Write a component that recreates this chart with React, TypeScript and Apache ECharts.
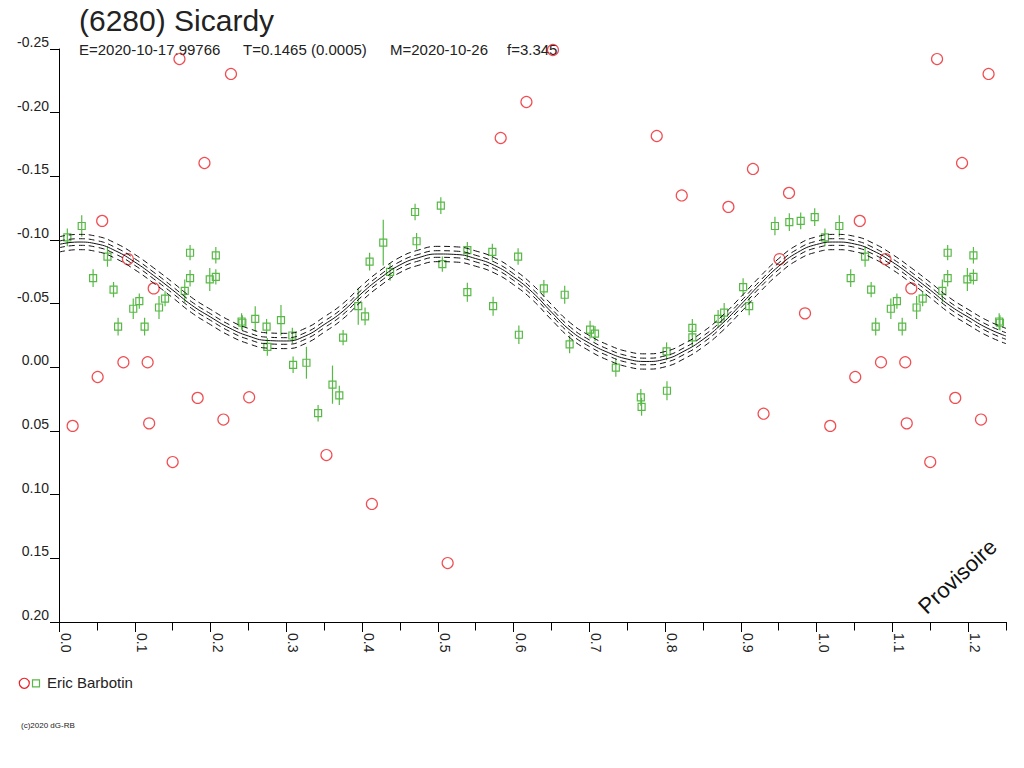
import React, { useEffect, useRef } from "react";
import * as echarts from "echarts";

// ---------- data ----------
const PHASE_MAX = 1.25;

// green squares (with error bars): phase, magnitude, error
const greenPhase = [
  0.011, 0.03, 0.045, 0.064, 0.072, 0.078, 0.098, 0.106, 0.113, 0.132, 0.14, 0.166, 0.173, 0.173,
  0.199, 0.207, 0.207, 0.241, 0.242, 0.259, 0.274, 0.275, 0.293, 0.308, 0.309, 0.3266, 0.342,
  0.361, 0.37, 0.375, 0.395, 0.404, 0.41, 0.428, 0.437, 0.47, 0.472, 0.504, 0.506, 0.539, 0.539,
  0.572, 0.573, 0.606, 0.607, 0.64, 0.6675, 0.674, 0.701, 0.7075, 0.735, 0.768, 0.769, 0.802,
  0.8025, 0.836, 0.836, 0.87, 0.878, 0.903, 0.911, 0.945, 0.964, 0.979, 0.9975,
];
const greenMag = [
  -0.102, -0.111, -0.07, -0.087, -0.061, -0.032, -0.046, -0.052, -0.032, -0.047, -0.054, -0.06,
  -0.09, -0.07, -0.069, -0.088, -0.071, -0.036, -0.035, -0.038, -0.032, -0.016, -0.037, -0.025,
  -0.002, -0.0036, 0.036, 0.0136, 0.022, -0.0233, -0.048, -0.04, -0.083, -0.098, -0.075, -0.122,
  -0.099, -0.127, -0.081, -0.092, -0.059, -0.0906, -0.048, -0.087, -0.0256, -0.062, -0.057,
  -0.018, -0.0296, -0.0264, 0.0003, 0.0236, 0.031, -0.0126, 0.0184, -0.031, -0.0236, -0.038,
  -0.043, -0.063, -0.048, -0.111, -0.114, -0.115, -0.118,
];
const greenErr = [
  0.007, 0.0085, 0.007, 0.008, 0.006, 0.007, 0.008, 0.006, 0.007, 0.009, 0.006, 0.009, 0.006,
  0.0065, 0.009, 0.0065, 0.006, 0.0065, 0.006, 0.01, 0.006, 0.007, 0.012, 0.006, 0.0065, 0.0125,
  0.0065, 0.015, 0.0075, 0.006, 0.0145, 0.007, 0.007, 0.018, 0.007, 0.0065, 0.0065, 0.0065,
  0.006, 0.0065, 0.0075, 0.0065, 0.0075, 0.0065, 0.0073, 0.0065, 0.007, 0.007, 0.007, 0.006,
  0.007, 0.0065, 0.007, 0.007, 0.0075, 0.007, 0.007, 0.007, 0.0075, 0.007, 0.007, 0.0073, 0.007,
  0.0065, 0.007,
];

// red circles: phase, magnitude
const redPhase = [
  0.018, 0.051, 0.057, 0.085, 0.091, 0.117, 0.119, 0.125, 0.15, 0.159, 0.183, 0.192, 0.217, 0.227,
  0.251, 0.353, 0.413, 0.513, 0.583, 0.617, 0.652, 0.789, 0.822, 0.8836, 0.916, 0.93, 0.951,
  0.9636, 0.9847,
];
const redMag = [
  0.046, 0.0076, -0.115, -0.004, -0.085, -0.004, 0.044, -0.062, 0.0744, -0.2421, 0.024, -0.1605,
  0.041, -0.2304, 0.0235, 0.0689, 0.1073, 0.1537, -0.1801, -0.2084, -0.2492, -0.1817, -0.135,
  -0.126, -0.1558, 0.0364, -0.085, -0.137, -0.0424,
];

// fitted curve, read every 0.025 in phase
const curvePhase = [
  0, 0.025, 0.05, 0.075, 0.1, 0.125, 0.15, 0.175, 0.2, 0.225, 0.25, 0.275, 0.3, 0.325, 0.35, 0.375,
  0.4, 0.425, 0.45, 0.475, 0.5, 0.525, 0.55, 0.575, 0.6, 0.625, 0.65, 0.675, 0.7, 0.725, 0.75,
  0.775, 0.8, 0.825, 0.85, 0.875, 0.9, 0.925, 0.95, 0.975, 1.0,
];
const curveMag = [
  -0.0965, -0.0984, -0.0969, -0.0914, -0.0827, -0.0721, -0.0607, -0.0489, -0.0395, -0.0309,
  -0.0246, -0.0211, -0.0207, -0.0246, -0.0336, -0.0442, -0.0584, -0.0705, -0.0804, -0.0862,
  -0.089, -0.0886, -0.0854, -0.08, -0.0709, -0.0589, -0.0434, -0.0289, -0.019, -0.0116, -0.0065,
  -0.0046, -0.0064, -0.0127, -0.0219, -0.0342, -0.0493, -0.0651, -0.0794, -0.0903, -0.0965,
];
// dashed uncertainty envelopes around the curve (magnitude offsets)
const envelopeOffsets = [-0.006, -0.0026, 0.0026, 0.006];

const yTicks = { min: -0.25, max: 0.2, interval: 0.05 };
const xTicks = { min: 0, max: PHASE_MAX, interval: 0.1, minor: 0.05 };

const titleText = "(6280) Sicardy";
const subtitleParts = [
  { text: "E=2020-10-17.99766", x: 79 },
  { text: "T=0.1465 (0.0005)", x: 243 },
  { text: "M=2020-10-26", x: 390 },
  { text: "f=3.345", x: 507 },
];
const observer = "Eric Barbotin";
const copyright = "(c)2020 dG-RB";
const watermark = "Provisoire";

const GREEN = "#58b947";
const RED = "#ec2027";
const FONT = '"Liberation Sans", Arial, Helvetica, sans-serif';

function withRepeat<T>(p: number, make: (ph: number) => T): T[] {
  const out = [make(p)];
  if (p + 1 <= PHASE_MAX + 1e-9) out.push(make(p + 1));
  return out;
}

export default function App() {
  const ref = useRef<HTMLDivElement>(null);

  useEffect(() => {
    if (!ref.current) return;
    const chart = echarts.init(ref.current, null, { renderer: "svg" });

    const greenData: number[][] = [];
    greenPhase.forEach((p, i) => {
      withRepeat(p, (ph) => [ph, greenMag[i], greenErr[i]]).forEach((d) => greenData.push(d));
    });
    const redData: number[][] = [];
    redPhase.forEach((p, i) => {
      withRepeat(p, (ph) => [ph, redMag[i]]).forEach((d) => redData.push(d));
    });
    const curveData: number[][] = curvePhase.map((p, i) => [p, curveMag[i]]);
    curvePhase.forEach((p, i) => {
      if (p > 0 && p + 1 <= PHASE_MAX + 1e-9 && p + 1 > 1) curveData.push([p + 1, curveMag[i]]);
    });

    const lineBase = {
      type: "line",
      showSymbol: false,
      symbol: "none",
      smooth: true,
      silent: true,
      clip: true,
      xAxisIndex: 0,
      yAxisIndex: 0,
    };

    const envelopeSeries = envelopeOffsets.map((off) => ({
      ...lineBase,
      data: curveData.map((d) => [d[0], d[1] + off]),
      lineStyle: { color: "#111", width: 1, type: [6, 4] },
    }));

    const option: any = {
      animation: false,
      grid: { left: 59, top: 49, right: 18, bottom: 146, containLabel: false },
      xAxis: [
        {
          type: "value",
          position: "bottom",
          min: xTicks.min,
          max: xTicks.max,
          interval: xTicks.interval,
          axisLine: { show: true, onZero: false, lineStyle: { color: "#000", width: 1 } },
          axisTick: { show: true, length: 10, lineStyle: { color: "#000", width: 1 } },
          splitLine: { show: false },
          axisLabel: {
            rotate: -90,
            align: "left",
            verticalAlign: "bottom",
            margin: 11,
            fontSize: 14,
            fontFamily: FONT,
            color: "#222",
            showMaxLabel: false,
            formatter: (v: number) => {
              const k = Math.round(v * 10);
              return Math.abs(v * 10 - k) < 1e-6 ? (k / 10).toFixed(1) : "";
            },
          },
        },
        {
          type: "value",
          position: "bottom",
          offset: 0,
          min: xTicks.min,
          max: xTicks.max,
          interval: xTicks.minor,
          axisLine: { show: false, onZero: false },
          axisTick: { show: true, length: 8.5, lineStyle: { color: "#000", width: 1 } },
          splitLine: { show: false },
          axisLabel: { show: false },
        },
      ],
      yAxis: {
        type: "value",
        inverse: true,
        min: yTicks.min,
        max: yTicks.max,
        interval: yTicks.interval,
        axisLine: { show: true, onZero: false, lineStyle: { color: "#000", width: 1 } },
        axisTick: { show: true, length: 9, lineStyle: { color: "#000", width: 1 } },
        splitLine: { show: false },
        axisLabel: {
          margin: 10,
          fontSize: 14,
          fontFamily: FONT,
          color: "#222",
          verticalAlign: "bottom",
          formatter: (v: number) => {
            const r = Math.round(v * 100) / 100;
            return (Math.abs(r) < 1e-9 ? 0 : r).toFixed(2);
          },
        },
      },
      series: [
        ...envelopeSeries,
        {
          ...lineBase,
          data: curveData,
          lineStyle: { color: "#111", width: 1, type: "solid" },
        },
        {
          type: "custom",
          xAxisIndex: 0,
          yAxisIndex: 0,
          clip: true,
          silent: true,
          data: greenData,
          encode: { x: 0, y: 1 },
          renderItem: (params: any, api: any) => {
            const x = api.value(0);
            const y = api.value(1);
            const e = api.value(2);
            const c = api.coord([x, y]);
            const t = api.coord([x, y - e]);
            const b = api.coord([x, y + e]);
            const s = 7;
            return {
              type: "group",
              children: [
                {
                  type: "line",
                  shape: { x1: c[0], y1: t[1], x2: c[0], y2: b[1] },
                  style: { stroke: GREEN, lineWidth: 1.2 },
                },
                {
                  type: "rect",
                  shape: { x: c[0] - s / 2, y: c[1] - s / 2, width: s, height: s },
                  style: { fill: "none", stroke: GREEN, lineWidth: 1.2 },
                },
              ],
            };
          },
        },
        {
          type: "scatter",
          xAxisIndex: 0,
          yAxisIndex: 0,
          silent: true,
          symbol: "circle",
          symbolSize: 11,
          data: redData,
          itemStyle: { color: "rgba(0,0,0,0)", borderColor: RED, borderWidth: 1.2 },
        },
      ],
      graphic: [
        {
          type: "text",
          x: 79,
          y: 20.5,
          style: { text: titleText, fontSize: 30, fontFamily: FONT, fill: "#222", verticalAlign: "middle", align: "left" },
        },
        ...subtitleParts.map((p) => ({
          type: "text",
          x: p.x,
          y: 49,
          style: { text: p.text, fontSize: 15, fontFamily: FONT, fill: "#222", verticalAlign: "middle", align: "left" },
        })),
        {
          type: "circle",
          shape: { cx: 24.3, cy: 683.3, r: 5 },
          style: { fill: "none", stroke: RED, lineWidth: 1.2 },
        },
        {
          type: "rect",
          shape: { x: 32.5, y: 679.8, width: 7, height: 7 },
          style: { fill: "none", stroke: GREEN, lineWidth: 1.2 },
        },
        {
          type: "text",
          x: 47,
          y: 682.5,
          style: { text: observer, fontSize: 15, fontFamily: FONT, fill: "#222", verticalAlign: "middle", align: "left" },
        },
        {
          type: "text",
          x: 21,
          y: 725.5,
          style: { text: copyright, fontSize: 8, fontFamily: FONT, fill: "#222", verticalAlign: "middle", align: "left" },
        },
        {
          type: "text",
          x: 957.5,
          y: 576.5,
          rotation: 0.75,
          style: { text: watermark, fontSize: 22, fontFamily: FONT, fill: "#111", verticalAlign: "middle", align: "center" },
        },
      ],
    };

    chart.setOption(option);
    return () => chart.dispose();
  }, []);

  return (
    <div
      ref={ref}
      style={{ position: "absolute", left: 0, top: 0, width: 1024, height: 768, background: "#fff" }}
    />
  );
}
